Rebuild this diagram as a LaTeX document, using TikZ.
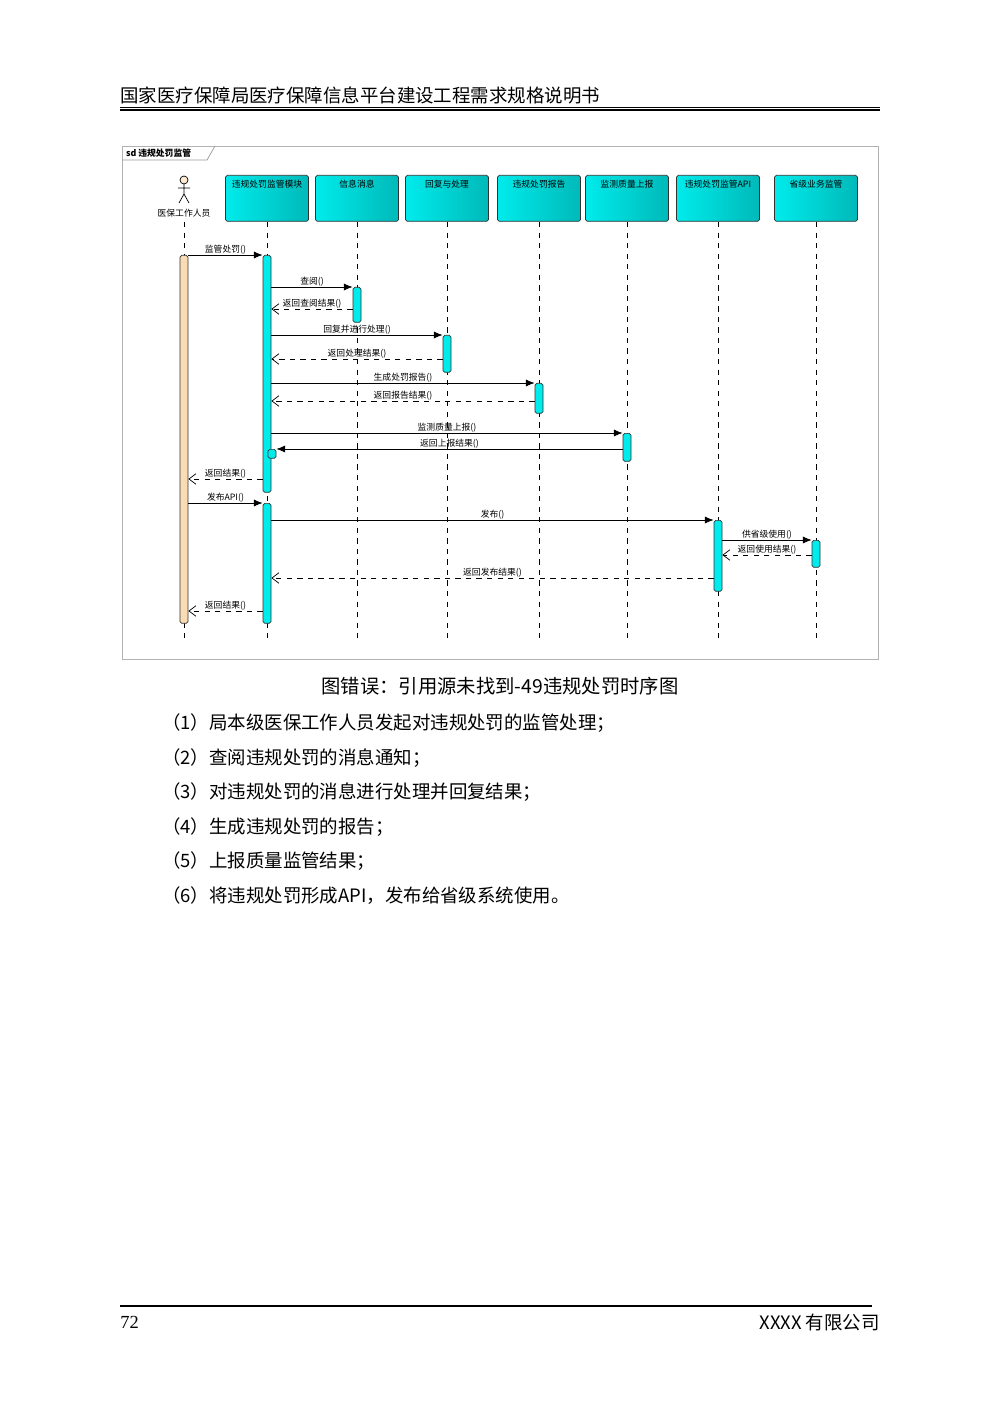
\documentclass[tikz,border=0pt]{standalone}
\usepackage{fontspec}
\setmainfont{Liberation Serif}
\newfontfamily\cjk{Noto Sans CJK SC}
\usetikzlibrary{arrows.meta, positioning}

\definecolor{lifecyan}{RGB}{0,235,235}
\definecolor{lifeteal}{RGB}{0,185,185}
\definecolor{actbeige}{RGB}{250,220,180}

\begin{document}
\begin{tikzpicture}[
                x=0.02cm, y=-0.02cm,
                every node/.style={font=\cjk\fontsize{5}{6}\selectfont, inner sep=1pt},
                lifebox/.style={draw=black!80, rounded corners=1pt, left color=lifecyan, right color=lifeteal, minimum width=1.66cm, minimum height=0.92cm, anchor=north, text depth=0.6cm},
                lifeline/.style={dashed, thin},
                act/.style={draw=black!80, fill=lifecyan, rounded corners=1pt, minimum width=0.16cm, inner sep=0pt},
                call/.style={-{Latex[length=5pt,width=4pt]}, thin},
                ret/.style={-{Straight Barb[length=4pt,width=6pt]}, thin, dashed},
                lbl/.style={above=-0.5pt, font=\cjk\fontsize{5}{6}\selectfont},
                body/.style={anchor=west, font=\cjk\fontsize{10.5}{12}\selectfont}]

            % Seite
            \useasboundingbox (0,0) rectangle (1000,1415);
            \node[anchor=south west, font=\cjk\fontsize{10.5}{12}\selectfont, inner sep=0pt] (kopf) at (120,104) {国家医疗保障局医疗保障信息平台建设工程需求规格说明书};
            \draw[thin] (120,107) -- (880,107);
            \draw[line width=1.4pt] (120,110) -- (880,110);

            % Rahmen
            \draw[black!30] (122,146) rectangle (878,659);
            \draw[black!40] (122,160) -- (207,160) -- (215,146);
            \node[anchor=west, font=\cjk\bfseries\fontsize{5}{6}\selectfont] (sd) at (124,153) {sd 违规处罚监管};

            % Akteur
            \draw[thin, fill=actbeige!60] (184,180) circle (4);
            \draw[thin] (184,184) -- (184,194) (178,188) -- (190,188) (184,194) -- (179,203) (184,194) -- (189,203);
            \node (arzt) at (184,213) {医保工作人员};

            % Lebenslinien
            \node[lifebox] (modul) at (267,175) {违规处罚监管模块};
            \node[lifebox] (info) at (357,175) {信息消息};
            \node[lifebox] (antw) at (447,175) {回复与处理};
            \node[lifebox] (bericht) at (539,175) {违规处罚报告};
            \node[lifebox] (qual) at (627,175) {监测质量上报};
            \node[lifebox] (api) at (718,175) {违规处罚监管API};
            \node[lifebox] (prov) at (816,175) {省级业务监管};

            \foreach \x in {184,267,357,447,539,627,718,816}
                \draw[lifeline] (\x,222) -- (\x,638);

            % Aktivierungen
            \node[act, fill=actbeige, minimum height=7.36cm, anchor=north] (aArzt) at (184,255) {};
            \node[act, minimum height=4.74cm, anchor=north] (aMod1) at (267,255) {};
            \node[act, minimum height=2.4cm, anchor=north] (aMod2) at (267,503) {};
            \node[act, minimum height=0.7cm, anchor=north] (aInfo) at (357,287) {};
            \node[act, minimum height=0.74cm, anchor=north] (aAntw) at (447,335) {};
            \node[act, minimum height=0.6cm, anchor=north] (aBer) at (539,383) {};
            \node[act, minimum height=0.56cm, anchor=north] (aQual) at (627,433) {};
            \node[act, minimum height=1.42cm, anchor=north] (aApi) at (718,520) {};
            \node[act, minimum height=0.54cm, anchor=north] (aProv) at (816,540) {};
            \node[act, minimum height=0.18cm, anchor=north] (aSelf) at (272,449) {};

            % Nachrichten
            \draw[call] (aArzt.east |- 0,255) -- node[lbl] {监管处罚()} (aMod1.west |- 0,255);
            \draw[call] (aMod1.east |- 0,287) -- node[lbl] {查阅()} (aInfo.west |- 0,287);
            \draw[ret] (aInfo.west |- 0,309) -- node[lbl] {返回查阅结果()} (aMod1.east |- 0,309);
            \draw[call] (aMod1.east |- 0,335) -- node[lbl] {回复并进行处理()} (aAntw.west |- 0,335);
            \draw[ret] (aAntw.west |- 0,359) -- node[lbl] {返回处理结果()} (aMod1.east |- 0,359);
            \draw[call] (aMod1.east |- 0,383) -- node[lbl] {生成处罚报告()} (aBer.west |- 0,383);
            \draw[ret] (aBer.west |- 0,401) -- node[lbl] {返回报告结果()} (aMod1.east |- 0,401);
            \draw[call] (aMod1.east |- 0,433) -- node[lbl] {监测质量上报()} (aQual.west |- 0,433);
            \draw[call] (aQual.west |- 0,449) -- node[lbl] {返回上报结果()} (aSelf.east |- 0,449);
            \draw[ret] (aMod1.west |- 0,479) -- node[lbl] {返回结果()} (aArzt.east |- 0,479);
            \draw[call] (aArzt.east |- 0,503) -- node[lbl] {发布API()} (aMod2.west |- 0,503);
            \draw[call] (aMod2.east |- 0,520) -- node[lbl] {发布()} (aApi.west |- 0,520);
            \draw[call] (aApi.east |- 0,540) -- node[lbl] {供省级使用()} (aProv.west |- 0,540);
            \draw[ret] (aProv.west |- 0,555) -- node[lbl] {返回使用结果()} (aApi.east |- 0,555);
            \draw[ret] (aApi.west |- 0,578) -- node[lbl] {返回发布结果()} (aMod2.east |- 0,578);
            \draw[ret] (aMod2.west |- 0,611) -- node[lbl] {返回结果()} (aArzt.east |- 0,611);

            % Text
            \node[font=\cjk\fontsize{11}{13}\selectfont] (titel) at (500,686) {图错误：引用源未找到-49违规处罚时序图};
            \node[body] (p1) at (160,723) {（1）局本级医保工作人员发起对违规处罚的监管处理；};
            \node[body] (p2) at (160,758) {（2）查阅违规处罚的消息通知；};
            \node[body] (p3) at (160,792) {（3）对违规处罚的消息进行处理并回复结果；};
            \node[body] (p4) at (160,827) {（4）生成违规处罚的报告；};
            \node[body] (p5) at (160,861) {（5）上报质量监管结果；};
            \node[body] (p6) at (160,896) {（6）将违规处罚形成API，发布给省级系统使用。};

            % Fuss
            \draw[line width=1.4pt] (120,1306) -- (872,1306);
            \node[anchor=west, font=\fontsize{10.5}{12}\selectfont, inner sep=0pt] (seite) at (120,1322) {72};
            \node[anchor=east, font=\cjk\fontsize{10.5}{12}\selectfont, inner sep=0pt] (firma) at (880,1322) {XXXX 有限公司};

        \end{tikzpicture}
\end{document}
